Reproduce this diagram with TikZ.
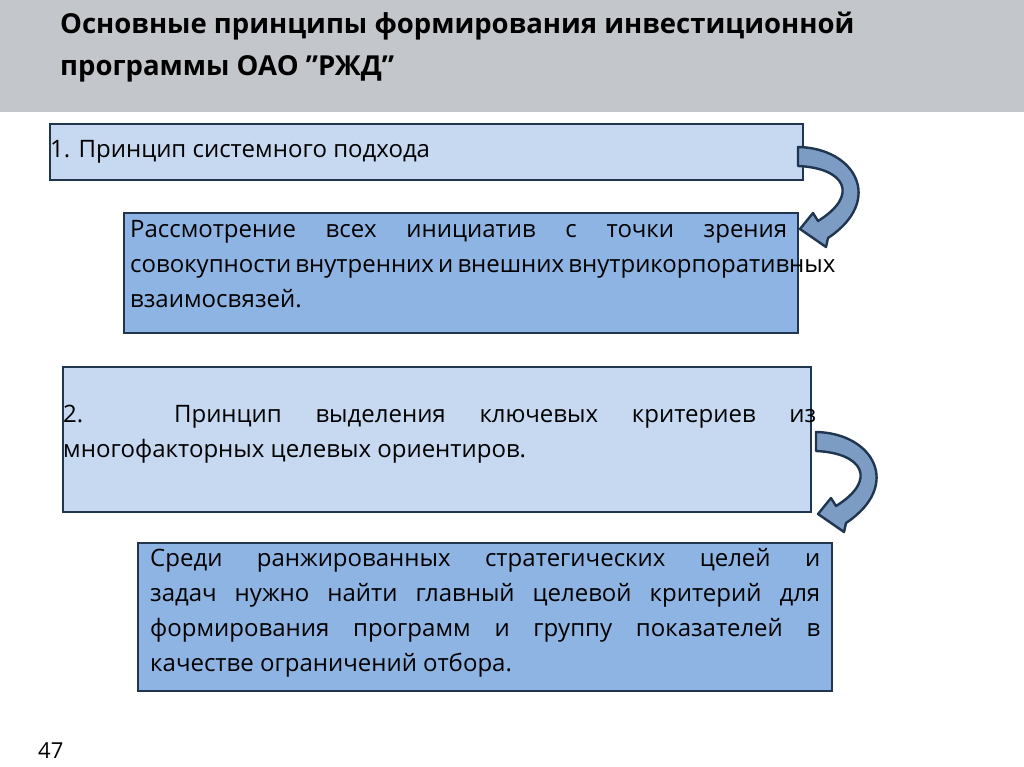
\documentclass[tikz,border=0pt]{standalone}
\usepackage{fontspec}
\setmainfont{Open Sans}
\begin{document}
\begin{tikzpicture}[x=1pt,y=-1pt,
 box/.style={draw=boxline,line width=2.8pt,anchor=north west,inner sep=0pt},
 txt/.style={anchor=north west,align=justify,font=\fontsize{24}{35}\selectfont,inner sep=0pt},
 carrow/.style={draw=boxline,line width=2.4pt,fill=arrowfill,line join=round}]
\definecolor{boxline}{HTML}{1F3550}
\definecolor{lightbox}{HTML}{C6D9F1}
\definecolor{medbox}{HTML}{8EB4E3}
\definecolor{arrowfill}{HTML}{7C9CC4}
\definecolor{header}{HTML}{C3C6CA}
\useasboundingbox (0,0) rectangle (1024,767);
\fill[white] (0,0) rectangle (1024,767);
\fill[header] (0,0) rectangle (1024,112);
\node[anchor=north west,align=left,font=\bfseries\fontsize{27.5}{42}\selectfont,inner sep=0pt] (title) at (60,12) {Основные принципы формирования инвестиционной\\программы ОАО \symbol{34}РЖД\symbol{34}};
% boxes
\draw[box,fill=lightbox] (50,124) rectangle (803,180);
\node[anchor=west,font=\fontsize{24}{35}\selectfont,inner sep=0pt] (t1) at (50,152) {1. Принцип системного подхода};
\draw[box,fill=medbox] (124,213) rectangle (798,333);
\node[txt,text width=657pt] (t2) at (130,220) {Рассмотрение всех инициатив с точки зрения совокупности внутренних и внешних внутрикорпоративных взаимосвязей.};
\draw[box,fill=lightbox] (63,367) rectangle (811,512);
\node[txt,text width=753pt] (t3) at (63,405) {2. Принцип выделения ключевых критериев из многофакторных целевых ориентиров.};
\draw[box,fill=medbox] (138,543) rectangle (832,691);
\node[txt,text width=670pt] (t4) at (150,548) {Среди ранжированных стратегических целей и задач нужно найти главный целевой критерий для формирования программ и группу показателей в качестве ограничений отбора.};
% curved arrows
\foreach \dx/\dy in {0/0,18/285}{
\begin{scope}[shift={(\dx,\dy)}]
\draw[carrow] (798,147) .. controls (855,148) and (885,200) .. (828,238) -- (826,247) -- (800,229) -- (813,213) -- (818,221) .. controls (860,195) and (845,168) .. (798,166) -- cycle;
\end{scope}}
\node[anchor=west,font=\fontsize{22}{24}\selectfont,inner sep=0pt] (pg) at (38,751) {47};
\end{tikzpicture}
\end{document}
